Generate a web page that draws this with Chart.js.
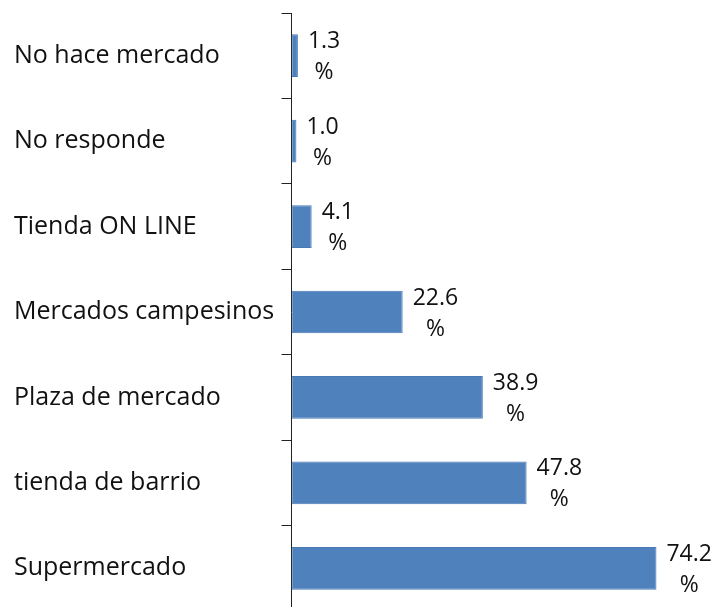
<!DOCTYPE html>
<html>
<head>
<meta charset="utf-8">
<script src="https://cdn.jsdelivr.net/npm/chart.js@4/dist/chart.umd.min.js"></script>
<style>
  html, body { margin: 0; padding: 0; background: #fff; overflow: hidden; }
</style>
</head>
<body>
<canvas id="marketChart" width="718" height="614"></canvas>
<script>
// lugares donde hace mercado (%)
const categories = ['No hace mercado', 'No responde', 'Tienda ON LINE', 'Mercados campesinos',
                    'Plaza de mercado', 'tienda de barrio', 'Supermercado'];
const values = [1.3, 1.0, 4.1, 22.6, 38.9, 47.8, 74.2];

const fontFamily = '"Open Sans", "Liberation Sans", sans-serif';

// etiquetas "valor / %" a la derecha de cada barra
const barLabels = {
    id: 'barLabels',
    afterDatasetsDraw(chart) {
        const c = chart.ctx;
        const meta = chart.getDatasetMeta(0);
        c.save();
        c.fillStyle = '#111';
        c.font = '23px ' + fontFamily;
        c.textBaseline = 'middle';
        meta.data.forEach((bar, i) => {
            const txt = values[i].toFixed(1);
            const x = bar.x + 10;
            const w = c.measureText(txt).width;
            c.textAlign = 'left';
            c.fillText(txt, x, bar.y - 14);
            c.textAlign = 'center';
            c.fillText('%', x + w / 2, bar.y + 17);
        });
        c.restore();
    }
};

const ctx = document.getElementById('marketChart').getContext('2d');

new Chart(ctx, {
    type: 'bar',
    data: {
        labels: categories,
        datasets: [{
            data: values,
            backgroundColor: '#4F81BD',
            borderColor: '#4A7AB5',
            borderWidth: 1,
            borderSkipped: false,
            barPercentage: 0.5,
            categoryPercentage: 1
        }]
    },
    options: {
        indexAxis: 'y',
        responsive: false,
        animation: false,
        layout: { padding: { top: 13, left: 14, right: 33, bottom: 3 } },
        plugins: {
            legend: { display: false },
            tooltip: { enabled: false }
        },
        scales: {
            x: { display: false, min: 0, max: 80 },
            y: {
                offset: true,
                afterFit(scale) {
                    scale.width = 277.5;
                    scale.paddingTop = 0;
                    scale.paddingBottom = 0;
                },
                border: { display: true, color: '#222', width: 1 },
                grid: {
                    offset: true,
                    drawOnChartArea: false,
                    drawTicks: true,
                    tickLength: 10,
                    color: '#222'
                },
                ticks: {
                    crossAlign: 'far',
                    color: '#111',
                    font: { family: fontFamily, size: 25 }
                }
            }
        }
    },
    plugins: [barLabels]
});
</script>
</body>
</html>
